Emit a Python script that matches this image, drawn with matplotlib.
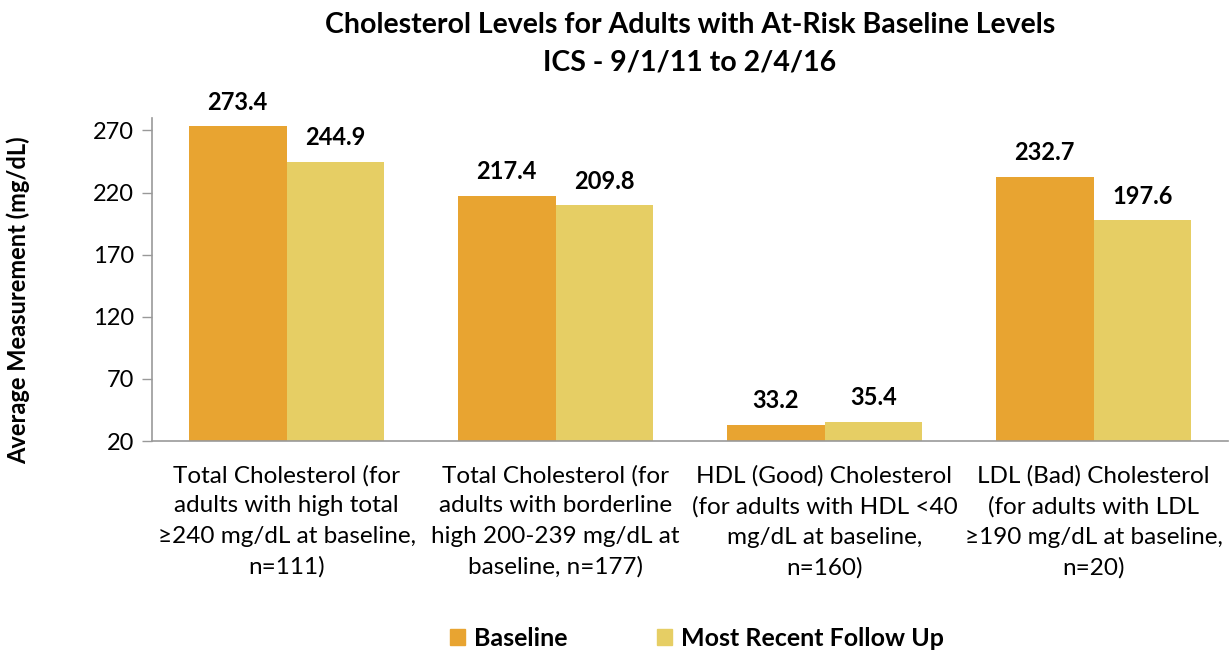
import numpy as np
import matplotlib
matplotlib.use("Agg")
import matplotlib.pyplot as plt
from matplotlib.patches import Patch

plt.rcParams['font.family'] = ['Lato', 'DejaVu Sans']

categories = [
    "Total Cholesterol (for\nadults with high total\n\u2265240 mg/dL at baseline,\nn=111)",
    "Total Cholesterol (for\nadults with borderline\nhigh 200-239 mg/dL at\nbaseline, n=177)",
    "HDL (Good) Cholesterol\n(for adults with HDL <40\nmg/dL at baseline,\nn=160)",
    "LDL (Bad) Cholesterol\n(for adults with LDL\n\u2265190 mg/dL at baseline,\nn=20)",
]
baseline = [273.4, 217.4, 33.2, 232.7]
follow_up = [244.9, 209.8, 35.4, 197.6]
series_names = ["Baseline", "Most Recent Follow Up"]
yticks = [20, 70, 120, 170, 220, 270]

c_base = "#E8A431"
c_follow = "#E6CE64"

fig = plt.figure(figsize=(12.31, 6.53), dpi=100)
ax = fig.add_axes([152 / 1231, 1 - 441 / 653, (1228 - 152) / 1231, (441 - 118) / 653])

x = np.arange(len(categories))
w = 0.364
floor = 20
b1 = ax.bar(x - w / 2, np.array(baseline) - floor, w, bottom=floor, color=c_base)
b2 = ax.bar(x + w / 2, np.array(follow_up) - floor, w, bottom=floor, color=c_follow)

for bars, vals in ((b1, baseline), (b2, follow_up)):
    for r, v in zip(bars, vals):
        ax.annotate(f"{v:.1f}", (r.get_x() + r.get_width() / 2, v),
                    xytext=(0, 9), textcoords="offset points",
                    ha="center", va="bottom", fontsize=17, fontweight="bold")

ax.set_xlim(-0.5, len(categories) - 0.5)
ax.set_ylim(20, 280)
ax.set_yticks(yticks)
ax.set_yticklabels([str(t) for t in yticks], fontsize=17)
ax.set_xticks(x)
ax.set_xticklabels(categories, fontsize=17.5, linespacing=1.55)
ax.tick_params(axis='x', length=0, pad=17)
ax.tick_params(axis='y', length=7, width=1, color="#999999", pad=6, direction='out')

for s in ("top", "right"):
    ax.spines[s].set_visible(False)
for s in ("left", "bottom"):
    ax.spines[s].set_color("#999999")
    ax.spines[s].set_linewidth(1.2)

ax.set_ylabel("Average Measurement (mg/dL)", fontsize=17, fontweight="bold")
ax.yaxis.set_label_coords(-(152 - 30) / 1076, (441 - 300) / 323)

fig.text(0.5605, 1 - 25 / 653, "Cholesterol Levels for Adults with At-Risk Baseline Levels",
         ha="center", va="center", fontsize=20.5, fontweight="bold")
fig.text(0.5605, 1 - 63 / 653, "ICS - 9/1/11 to 2/4/16",
         ha="center", va="center", fontsize=20.5, fontweight="bold")

handles = [Patch(color=c_base), Patch(color=c_follow)]
fig.legend(handles, series_names, loc="center", bbox_to_anchor=(0.566, 1 - 638 / 653),
           ncol=2, frameon=False, handlelength=0.6, handleheight=0.6,
           handletextpad=0.35, columnspacing=3.6,
           prop={"size": 18, "weight": "bold"})

fig.savefig("out.png", dpi=100)
